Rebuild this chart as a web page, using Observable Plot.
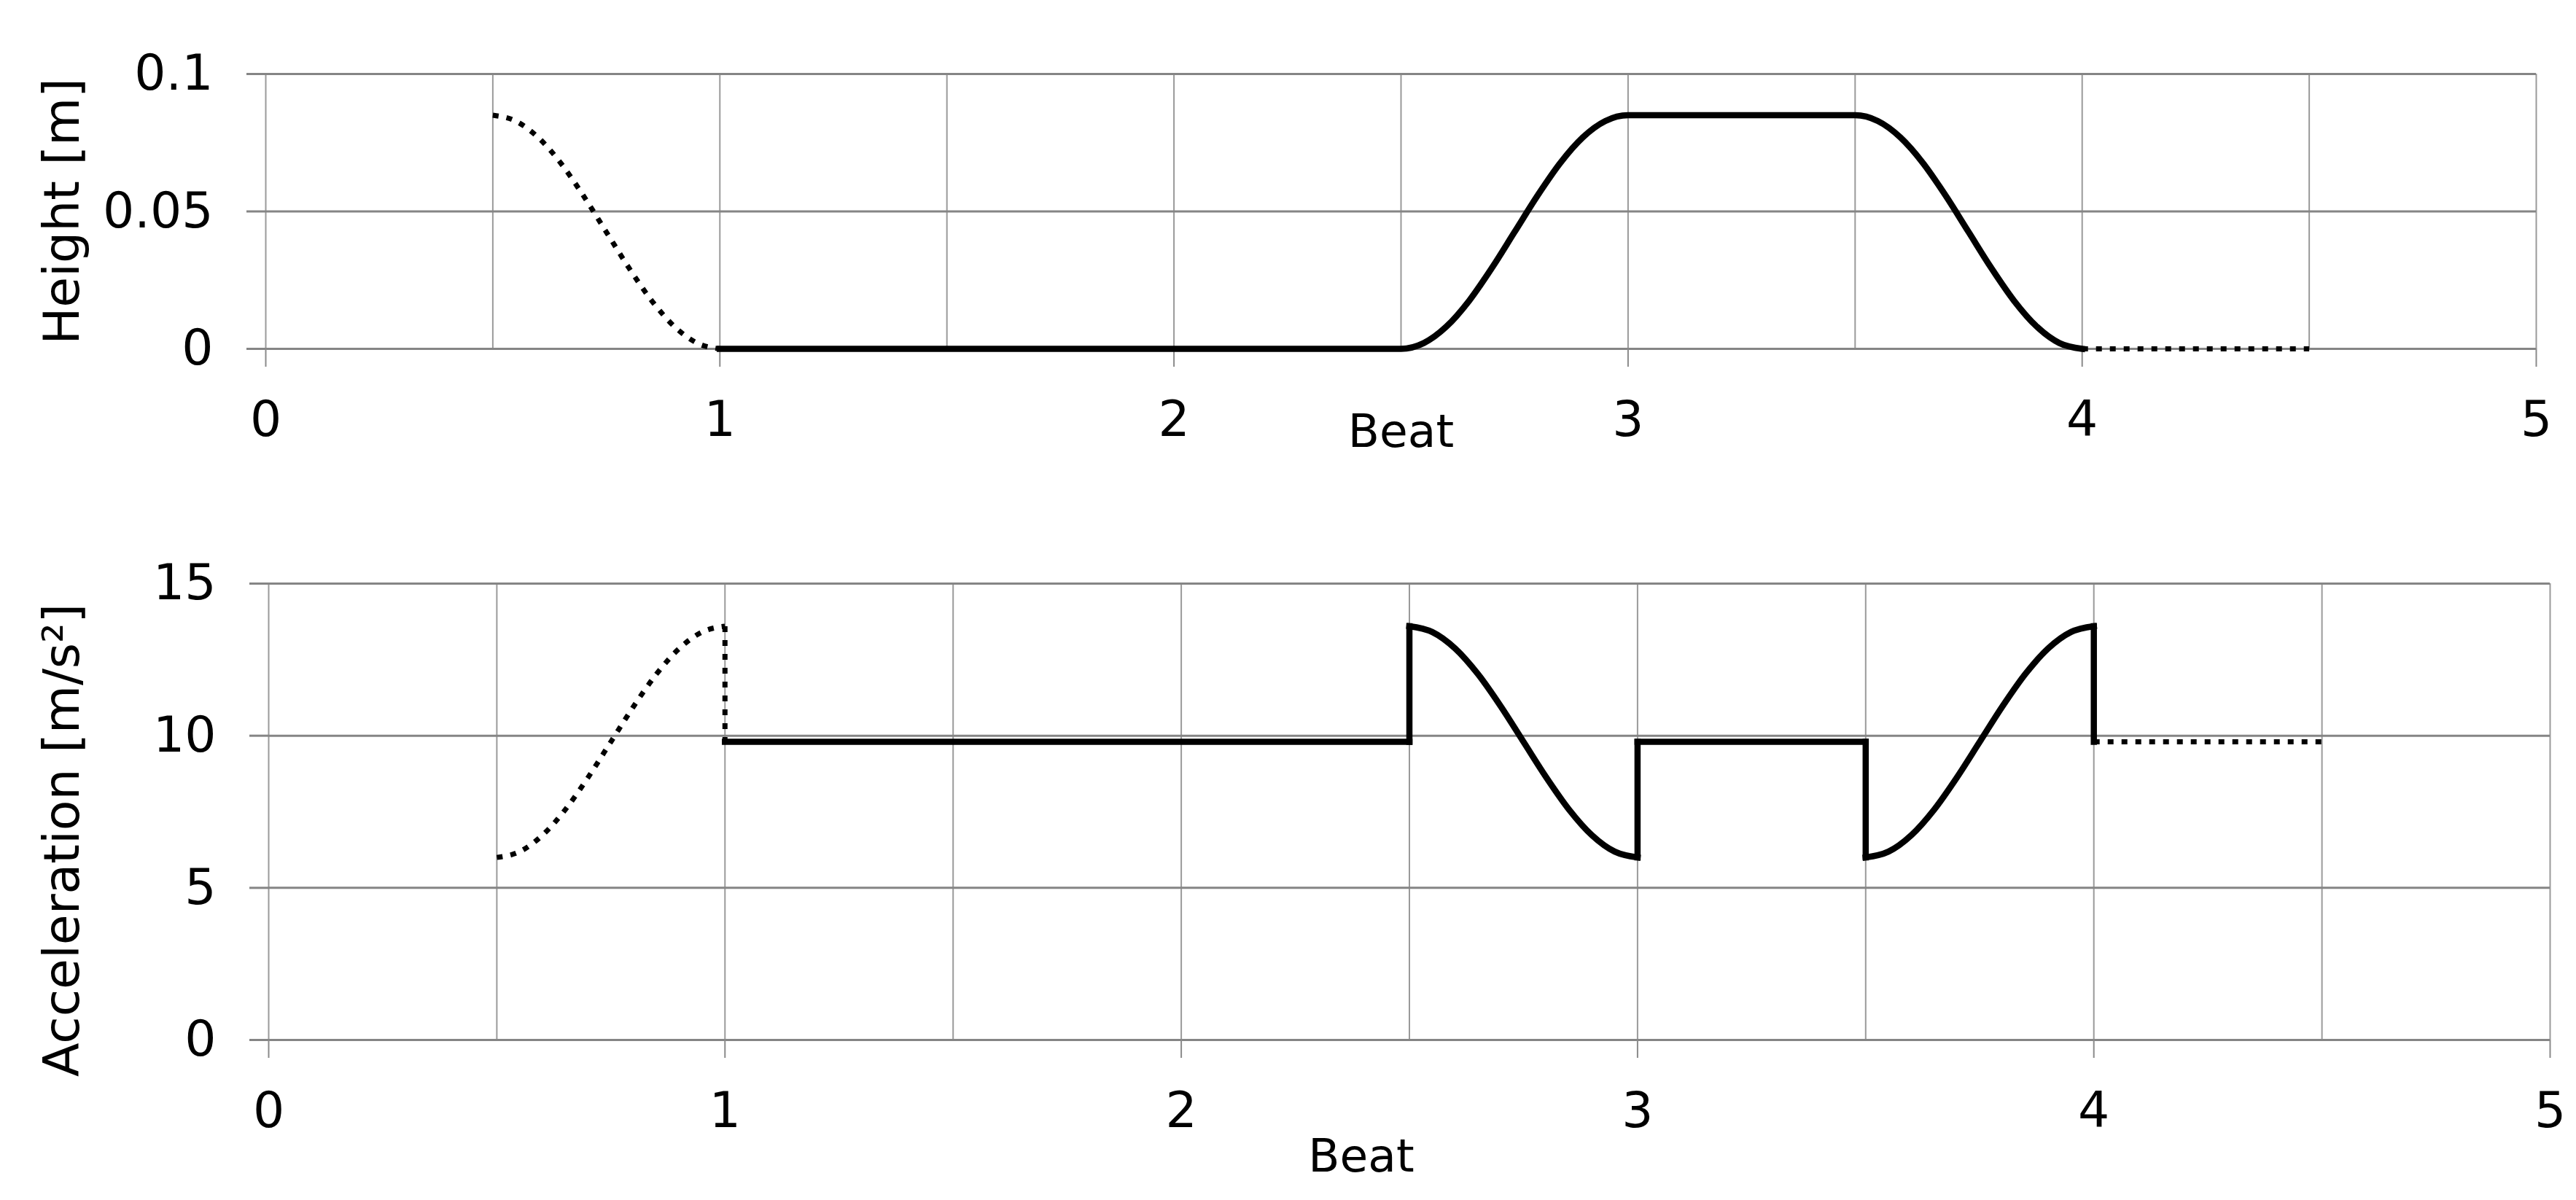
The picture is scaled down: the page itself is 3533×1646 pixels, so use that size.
<!DOCTYPE html>
<html><head><meta charset="utf-8">
<script src="https://cdn.jsdelivr.net/npm/d3@7"></script>
<script src="https://cdn.jsdelivr.net/npm/@observablehq/plot@0.6"></script>
<style>
html,body{margin:0;padding:0;background:#fff;}
#chart{width:3533px;height:1646px;overflow:hidden;background:#fff;}
#chart svg{display:block;}
</style></head><body><div id="chart"></div>
<script>
// ---- axes / ticks ----
const beatTicks = [0, 1, 2, 3, 4, 5];
const beatTickLabels = ["0", "1", "2", "3", "4", "5"];
const beatGrid = [0, 0.5, 1, 1.5, 2, 2.5, 3, 3.5, 4, 4.5, 5];
const heightTicks = [0, 0.05, 0.1];
const heightTickLabels = ["0", "0.05", "0.1"];
const accelTicks = [0, 5, 10, 15];
const accelTickLabels = ["0", "5", "10", "15"];
const xLabel = "Beat";
const heightLabel = "Height [m]";
const accelLabel = "Acceleration [m/s²]";

// ---- Height [m] ----
const heightLeadInBeat = [0.5, 0.55, 0.6, 0.65, 0.7, 0.75, 0.8, 0.85, 0.9, 0.95, 1.0];
const heightLeadIn     = [0.085, 0.0829, 0.0769, 0.0675, 0.0556, 0.0425, 0.0294, 0.0175, 0.0081, 0.0021, 0];
const heightMainBeat = [1.0,
  2.5, 2.55, 2.6, 2.65, 2.7, 2.75, 2.8, 2.85, 2.9, 2.95, 3.0,
  3.5, 3.55, 3.6, 3.65, 3.7, 3.75, 3.8, 3.85, 3.9, 3.95, 4.0];
const heightMain = [0,
  0, 0.0021, 0.0081, 0.0175, 0.0294, 0.0425, 0.0556, 0.0675, 0.0769, 0.0829, 0.085,
  0.085, 0.0829, 0.0769, 0.0675, 0.0556, 0.0425, 0.0294, 0.0175, 0.0081, 0.0021, 0];
const heightTailBeat = [4.0, 4.5];
const heightTail     = [0, 0];

// ---- Acceleration [m/s²] ----
const accelLeadInBeat = [0.5, 0.55, 0.6, 0.65, 0.7, 0.75, 0.8, 0.85, 0.9, 0.95, 1.0, 1.0];
const accelLeadIn     = [6.0, 6.19, 6.73, 7.57, 8.63, 9.8, 10.97, 12.03, 12.87, 13.41, 13.6, 9.8];
const accelMainBeat = [1.0, 2.5,
  2.5, 2.55, 2.6, 2.65, 2.7, 2.75, 2.8, 2.85, 2.9, 2.95, 3.0,
  3.0, 3.5,
  3.5, 3.55, 3.6, 3.65, 3.7, 3.75, 3.8, 3.85, 3.9, 3.95, 4.0,
  4.0];
const accelMain = [9.8, 9.8,
  13.6, 13.41, 12.87, 12.03, 10.97, 9.8, 8.63, 7.57, 6.73, 6.19, 6.0,
  9.8, 9.8,
  6.0, 6.19, 6.73, 7.57, 8.63, 9.8, 10.97, 12.03, 12.87, 13.41, 13.6,
  9.8];
const accelTailBeat = [4.0, 4.5];
const accelTail     = [9.8, 9.8];

// Build rows; a repeated beat (a vertical jump) becomes its own 2-point piece,
// so each piece has strictly increasing beats and can be drawn with a smooth curve.
function rows(xs, ys) {
  const out = [];
  let seg = 0;
  xs.forEach((x, i) => {
    if (i > 0 && x === xs[i - 1]) {
      seg++;
      out.push({beat: xs[i - 1], value: ys[i - 1], seg});
      out.push({beat: x, value: ys[i], seg});
      seg++;
    }
    out.push({beat: x, value: ys[i], seg});
  });
  const counts = d3.rollup(out, v => v.length, d => d.seg);
  return out.filter(d => counts.get(d.seg) > 1);
}

const font = "'DejaVu Sans', 'Noto Sans', sans-serif";

function panel(o) {
  const fmt = (ticks, labels) => d => labels[ticks.indexOf(d)];
  return Plot.plot({
    width: 3533,
    height: o.height,
    marginTop: o.marginTop,
    marginBottom: o.marginBottom,
    marginLeft: o.marginLeft,
    marginRight: o.marginRight,
    style: {fontFamily: font, background: "#fff", color: "#000", overflow: "visible"},
    x: {domain: [0, 5], axis: null},
    y: {domain: o.yDomain, axis: null},
    marks: [
      Plot.gridX(beatGrid, {stroke: "#9a9a9a", strokeOpacity: 1, strokeWidth: 2}),
      Plot.gridY(o.yTicks, {stroke: "#858585", strokeOpacity: 1, strokeWidth: 3}),
      Plot.axisX(beatTicks, {tickSize: 25, tickPadding: 46, stroke: "#8a8a8a", strokeWidth: 2,
        fill: "#000", fontSize: 68, tickFormat: fmt(beatTicks, beatTickLabels), label: null}),
      Plot.axisY(o.yTicks, {tickSize: 26, tickPadding: 46, stroke: "#858585", strokeWidth: 3,
        fill: "#000", fontSize: 68, tickFormat: fmt(o.yTicks, o.yTickLabels), label: null}),
      ...o.dotted.map(d => Plot.line(d, {x: "beat", y: "value", z: "seg", curve: "monotone-x",
        stroke: "#000", strokeWidth: 7, strokeDasharray: "8 11", strokeLinecap: "butt"})),
      Plot.line(o.solid, {x: "beat", y: "value", z: "seg", curve: "monotone-x",
        stroke: "#000", strokeWidth: 8.5, strokeLinecap: "square", strokeLinejoin: "miter"}),
      Plot.text([o.yLabel], {text: d => d, frameAnchor: "left", textAnchor: "middle", lineAnchor: "middle",
        dx: -(o.marginLeft - 86), dy: o.yLabelDy, rotate: -90, fontSize: 68, fill: "#000"}),
      Plot.text([xLabel], {text: d => d, frameAnchor: "bottom", textAnchor: "middle", lineAnchor: "middle",
        dy: o.xLabelDy, dx: o.xLabelDx, fontSize: 63, fill: "#000"})
    ]
  });
}

const topPanel = panel({
  height: 740, marginTop: 101, marginBottom: 262, marginLeft: 364, marginRight: 3533 - 3478,
  yDomain: [0, 0.1], yTicks: heightTicks, yTickLabels: heightTickLabels, yLabel: heightLabel, yLabelDy: 0,
  xLabelDy: 114, xLabelDx: 0,
  dotted: [rows(heightLeadInBeat, heightLeadIn), rows(heightTailBeat, heightTail)],
  solid: rows(heightMainBeat, heightMain)
});
const bottomPanel = panel({
  height: 906, marginTop: 60, marginBottom: 220, marginLeft: 368, marginRight: 3533 - 3497,
  yDomain: [0, 15], yTicks: accelTicks, yTickLabels: accelTickLabels, yLabel: accelLabel, yLabelDy: 39,
  xLabelDy: 160, xLabelDx: -66,
  dotted: [rows(accelLeadInBeat, accelLeadIn), rows(accelTailBeat, accelTail)],
  solid: rows(accelMainBeat, accelMain)
});
const root = document.getElementById("chart");
root.appendChild(topPanel);
root.appendChild(bottomPanel);
</script>
</body></html>
